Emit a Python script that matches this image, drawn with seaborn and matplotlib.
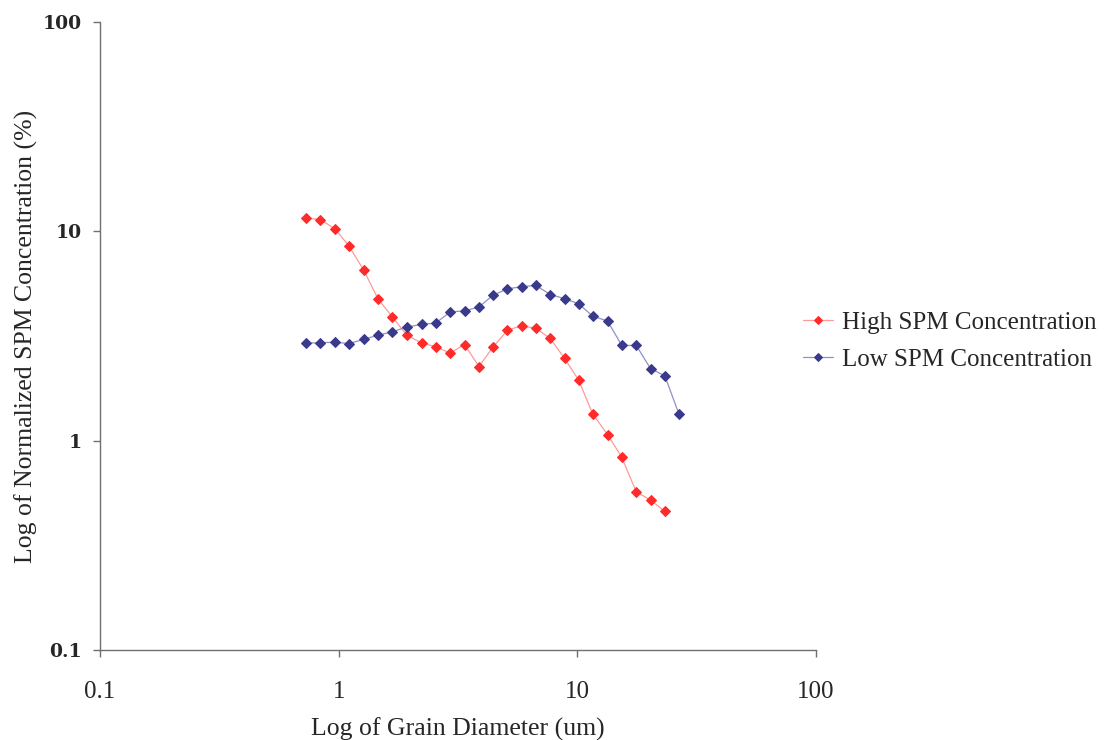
import matplotlib
matplotlib.use("Agg")
import matplotlib.pyplot as plt
import seaborn as sns
import pandas as pd
from matplotlib.ticker import FixedLocator, NullLocator, FixedFormatter

# Grain diameter bins (um)
diameter = [0.730, 0.839, 0.967, 1.106, 1.275, 1.460, 1.678, 1.931, 2.225,
            2.554, 2.934, 3.367, 3.871, 4.431, 5.096, 5.842, 6.706, 7.694,
            8.843, 10.12, 11.61, 13.38, 15.36, 17.66, 20.26, 23.27, 26.65]

# Normalized SPM concentration (%)
high_spm = [11.59, 11.37, 10.27, 8.48, 6.51, 4.77, 3.90, 3.19, 2.93,
            2.81, 2.62, 2.88, 2.26, 2.80, 3.37, 3.54, 3.44, 3.08,
            2.47, 1.95, 1.34, 1.07, 0.832, 0.569, 0.521, 0.459]
low_spm = [2.92, 2.94, 2.95, 2.91, 3.05, 3.19, 3.31, 3.49, 3.59,
           3.65, 4.12, 4.17, 4.35, 4.95, 5.31, 5.44, 5.52, 4.99,
           4.77, 4.51, 3.93, 3.73, 2.85, 2.85, 2.21, 2.04, 1.34]

series_names = ["High SPM Concentration", "Low SPM Concentration"]
y_ticks = [0.1, 1, 10, 100]
y_tick_labels = ["0.1", "1", "10", "100"]
x_ticks = [0.1, 1, 10, 100]
x_tick_labels = ["0.1", "1", "10", "100"]

high_df = pd.DataFrame({"d": diameter[:len(high_spm)], "c": high_spm})
low_df = pd.DataFrame({"d": diameter[:len(low_spm)], "c": low_spm})

sns.set_style("white")
serif = ["Liberation Serif", "DejaVu Serif"]
plt.rcParams["font.family"] = serif

W, H = 1104, 740
fig = plt.figure(figsize=(W / 100, H / 100), dpi=100)
ax = fig.add_axes([100 / W, 1 - 650 / H, 716 / W, 628 / H])
ax.set_xscale("log")
ax.set_yscale("log")

sns.lineplot(data=high_df, x="d", y="c", ax=ax, color="#ff9a9a", linewidth=0.9,
             marker="D", markersize=5.5, markerfacecolor="#ff2a2a",
             markeredgecolor="#ff2a2a", label=series_names[0], sort=False)
sns.lineplot(data=low_df, x="d", y="c", ax=ax, color="#9090c4", linewidth=0.9,
             marker="D", markersize=5.5, markerfacecolor="#3a3a8c",
             markeredgecolor="#3a3a8c", label=series_names[1], sort=False)

ax.set_xlim(0.1, 100)
ax.set_ylim(0.1, 100)
ax.xaxis.set_major_locator(FixedLocator(x_ticks))
ax.xaxis.set_major_formatter(FixedFormatter(x_tick_labels))
ax.xaxis.set_minor_locator(NullLocator())
ax.yaxis.set_major_locator(FixedLocator(y_ticks))
ax.yaxis.set_major_formatter(FixedFormatter(y_tick_labels))
ax.yaxis.set_minor_locator(NullLocator())

for side in ("top", "right"):
    ax.spines[side].set_visible(False)
for side in ("left", "bottom"):
    ax.spines[side].set_color("#707070")
    ax.spines[side].set_linewidth(1.0)

ax.tick_params(axis="both", which="major", direction="out", length=5,
               width=1, color="#707070", bottom=True, left=True)
ax.tick_params(axis="x", labelsize=18, pad=17)
ax.tick_params(axis="y", labelsize=13.5, pad=8)
for lab in ax.get_yticklabels():
    lab.set_fontweight("bold")
    lab.set_family(["DejaVu Serif"])

ax.set_xlabel("Log of Grain Diameter (um)", fontsize=18.5)
ax.xaxis.set_label_coords(458 / W, 1 - 718 / H, transform=fig.transFigure)
ax.xaxis.label.set_va("top")

ax.set_ylabel("Log of Normalized SPM Concentration (%)", fontsize=18.5)
ax.yaxis.set_label_coords(26 / W, 1 - 336 / H, transform=fig.transFigure)
ax.yaxis.label.set_va("center")
ax.yaxis.label.set_ha("center")

ax.legend(loc="center left", bbox_to_anchor=(803 / W, 1 - 341 / H),
          bbox_transform=fig.transFigure, frameon=False, fontsize=18,
          handlelength=1.2, handletextpad=0.35, labelspacing=0.6,
          borderpad=0, borderaxespad=0, markerscale=0.8)

fig.savefig("out.png", dpi=100, facecolor="white")
